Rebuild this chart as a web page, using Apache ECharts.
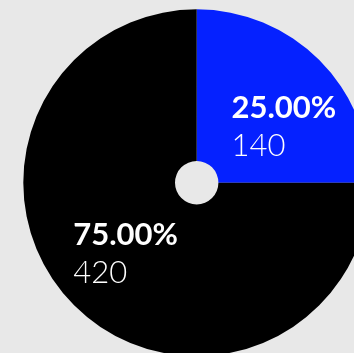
<!DOCTYPE html>
<html>
<head>
<meta charset="utf-8">
<script src="https://cdn.jsdelivr.net/npm/echarts@6/dist/echarts.min.js"></script>
<style>
  html, body { margin: 0; padding: 0; background: #e8e8e8; }
  #chart { width: 354px; height: 353px; }
</style>
</head>
<body>
<div id="chart"></div>
<script>
// slice names, values and colours
const names = ['A', 'B'];
const values = [140, 420];
const colors = ['#0521ff', '#000000'];

const total = values.reduce((a, b) => a + b, 0);

const chart = echarts.init(document.getElementById('chart'));

const labelRich = {
  pct: {
    color: '#ffffff',
    fontFamily: 'Lato',
    fontWeight: 'bold',
    fontSize: 31,
    lineHeight: 38,
    align: 'left',
  },
  val: {
    color: '#ffffff',
    fontFamily: 'Lato',
    fontWeight: 300,
    fontSize: 31,
    lineHeight: 38,
    align: 'left',
  },
};

const option = {
  backgroundColor: '#e8e8e8',
  animation: false,
  series: [
    {
      type: 'pie',
      center: [196.7, 182.7],
      radius: [21.7, 173.4],
      startAngle: 90,
      clockwise: true,
      label: {
        show: true,
        position: 'inside',
        formatter: (p) => '{pct|' + (p.value / total * 100).toFixed(2) + '%}\n{val|' + p.value + '}',
        rich: labelRich,
      },
      labelLine: { show: false },
      emphasis: { disabled: true },
      data: names.map((n, i) => ({
        name: n,
        value: values[i],
        itemStyle: { color: colors[i] },
        // first label sits a bit right and lower than the slice centre
        label: i === 0 ? { padding: [30, 0, 0, 32] } : {},
      })),
    },
  ],
};

chart.setOption(option);
</script>
</body>
</html>
